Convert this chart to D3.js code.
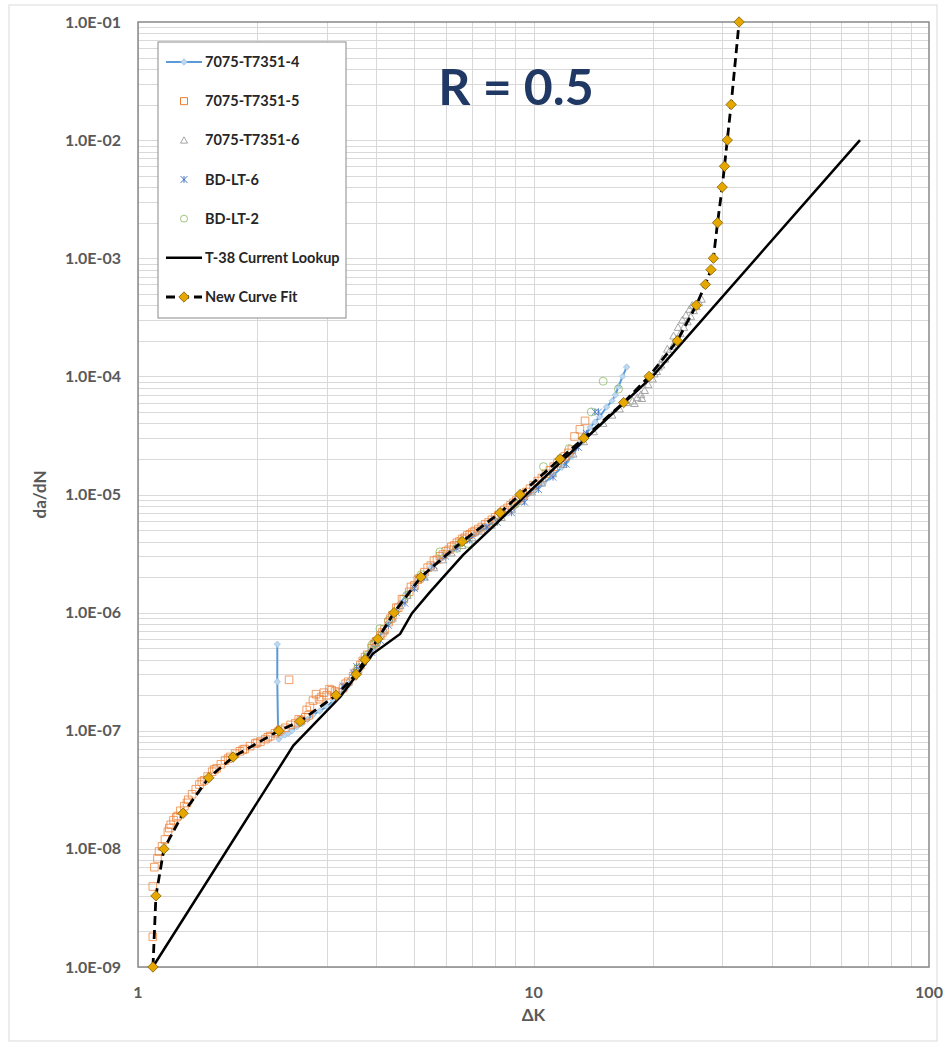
<!DOCTYPE html>
<html>
<head>
<meta charset="utf-8">
<script src="https://cdn.jsdelivr.net/npm/d3@7"></script>
<style>
  body { margin: 0; background: #fff; }
  svg text { font-family: Lato, "Noto Sans", sans-serif; }
</style>
</head>
<body>
<svg id="chart" width="946" height="1046"></svg>
<script>
// tick labels
const xTickValues = [1, 10, 100];
const xTickLabels = ["1", "10", "100"];
const yTickValues = [1e-9, 1e-8, 1e-7, 1e-6, 1e-5, 1e-4, 1e-3, 1e-2, 1e-1];
const yTickLabels = ["1.0E-09", "1.0E-08", "1.0E-07", "1.0E-06", "1.0E-05", "1.0E-04", "1.0E-03", "1.0E-02", "1.0E-01"];

// 7075-T7351-4 (line + small diamonds)
const spec4 = [
  [2.25, 5.4e-7], [2.25, 2.6e-7], [2.26, 1.05e-7], [2.27, 8.5e-8], [2.30, 9e-8], [2.35, 9.2e-8],
  [2.40, 9.5e-8], [2.45, 1.0e-7], [2.52, 1.08e-7], [2.60, 1.15e-7], [2.68, 1.25e-7], [2.77, 1.36e-7],
  [2.88, 1.47e-7], [3.0, 1.6e-7], [3.12, 1.8e-7], [3.24, 2e-7], [3.34, 2.25e-7], [3.43, 2.5e-7],
  [3.55, 2.9e-7], [3.65, 3.4e-7], [3.75, 3.9e-7], [3.85, 4.5e-7], [3.95, 5.2e-7], [4.05, 6e-7],
  [4.15, 6.9e-7], [4.3, 8.2e-7], [4.45, 1e-6], [4.6, 1.2e-6], [4.8, 1.45e-6], [5.0, 1.7e-6],
  [5.25, 2e-6], [5.5, 2.4e-6], [5.8, 2.8e-6], [6.1, 3.2e-6], [6.4, 3.6e-6], [6.8, 4.1e-6],
  [7.2, 4.7e-6], [7.6, 5.3e-6], [8.0, 6e-6], [8.5, 6.9e-6], [9.0, 8e-6], [9.5, 9.2e-6],
  [10.0, 1.06e-5], [10.6, 1.24e-5], [11.2, 1.45e-5], [11.8, 1.7e-5], [12.5, 2.1e-5], [13.1, 2.7e-5],
  [13.5, 3.2e-5], [13.9, 3.7e-5], [14.3, 4.1e-5], [14.7, 4.55e-5], [15.3, 5.5e-5], [15.8, 6.2e-5],
  [16.1, 6.95e-5], [16.4, 8.2e-5], [16.8, 1e-4], [17.2, 1.2e-4]
];

// 7075-T7351-5 (open squares)
const spec5 = [
  [1.09, 1.8e-9], [1.09, 4.8e-9], [1.10, 7e-9], [1.12, 8.3e-9], [1.13, 9.5e-9], [1.15, 1.05e-8],
  [1.17, 1.2e-8], [1.19, 1.4e-8], [1.2, 1.5e-8], [1.21, 1.6e-8], [1.23, 1.75e-8], [1.25, 1.85e-8],
  [1.26, 1.9e-8], [1.28, 2.1e-8], [1.31, 2.3e-8], [1.33, 2.45e-8], [1.34, 2.6e-8], [1.37, 2.9e-8],
  [1.40, 3.2e-8], [1.43, 3.5e-8], [1.45, 3.7e-8], [1.47, 3.8e-8], [1.50, 4.1e-8], [1.54, 4.5e-8],
  [1.56, 4.7e-8], [1.58, 4.8e-8], [1.62, 5.2e-8], [1.66, 5.6e-8], [1.69, 5.8e-8], [1.71, 6e-8],
  [1.76, 6.4e-8], [1.81, 6.7e-8], [1.84, 6.9e-8], [1.86, 7e-8], [1.92, 7.4e-8], [1.98, 7.8e-8],
  [2.0, 7.9e-8], [2.04, 8.1e-8], [2.10, 8.5e-8], [2.13, 8.8e-8], [2.16, 9e-8], [2.22, 9.5e-8],
  [2.26, 9.8e-8], [2.29, 1.02e-7], [2.36, 1.06e-7], [2.41, 2.7e-7], [2.43, 1.12e-7], [2.50, 1.16e-7],
  [2.55, 1.25e-7], [2.58, 1.22e-7], [2.65, 1.3e-7], [2.67, 1.5e-7], [2.7, 1.35e-7], [2.72, 1.6e-7],
  [2.77, 1.8e-7], [2.82, 2.04e-7], [2.87, 1.85e-7], [2.91, 1.93e-7], [2.95, 2.1e-7], [3.0, 2.0e-7],
  [3.05, 2.25e-7], [3.09, 2.2e-7], [3.15, 2.15e-7], [3.2, 2.1e-7], [3.3, 2.3e-7], [3.35, 2.5e-7],
  [3.4, 2.6e-7], [3.5, 2.9e-7], [3.55, 3.1e-7], [3.6, 3.3e-7], [3.65, 3.6e-7], [3.7, 3.9e-7],
  [3.75, 4.2e-7], [3.8, 4.4e-7], [3.9, 5e-7], [3.95, 5.4e-7], [4.0, 5.7e-7], [4.1, 6.4e-7],
  [4.15, 6.8e-7], [4.2, 7.2e-7], [4.3, 8.3e-7], [4.35, 8.9e-7], [4.4, 9.5e-7], [4.5, 1.1e-6],
  [4.55, 1.1e-6], [4.65, 1.3e-6], [4.7, 1.3e-6], [4.85, 1.5e-6], [4.9, 1.65e-6], [5.0, 1.7e-6],
  [5.1, 1.9e-6], [5.15, 1.95e-6], [5.3, 2.2e-6], [5.4, 2.4e-6], [5.5, 2.5e-6], [5.6, 2.75e-6],
  [5.7, 2.8e-6], [5.8, 3.0e-6], [5.9, 3.1e-6], [6.0, 3.3e-6], [6.1, 3.4e-6], [6.2, 3.6e-6],
  [6.3, 3.7e-6], [6.4, 3.9e-6], [6.5, 4.0e-6], [6.6, 4.2e-6], [6.7, 4.3e-6], [6.8, 4.5e-6],
  [6.9, 4.6e-6], [7.0, 4.75e-6], [7.1, 4.9e-6], [7.25, 5.1e-6], [7.4, 5.3e-6], [7.55, 5.6e-6],
  [7.7, 5.8e-6], [7.85, 6.1e-6], [8.0, 6.4e-6], [8.15, 6.7e-6], [8.3, 7e-6], [8.45, 7.4e-6],
  [8.6, 7.7e-6], [8.75, 8.1e-6], [8.9, 8.5e-6], [9.05, 8.9e-6], [9.2, 9.3e-6], [9.4, 9.8e-6],
  [9.6, 1.05e-5], [9.8, 1.12e-5], [10.0, 1.2e-5], [10.25, 1.3e-5], [10.5, 1.38e-5], [10.75, 1.5e-5],
  [11.0, 1.6e-5], [11.25, 1.72e-5], [11.5, 1.85e-5], [11.75, 1.98e-5], [12.0, 2.1e-5], [12.25, 2.25e-5],
  [12.5, 2.4e-5], [12.7, 3.1e-5], [13.1, 3.56e-5], [13.5, 4.2e-5]
];

// 7075-T7351-6 (open triangles)
const spec6 = [
  [3.4, 2.6e-7], [3.6, 3.2e-7], [3.8, 4.3e-7], [4.0, 5.5e-7], [4.2, 7e-7], [4.4, 9e-7],
  [4.6, 1.15e-6], [4.8, 1.4e-6], [5.0, 1.65e-6], [5.3, 2e-6], [5.6, 2.4e-6], [5.9, 2.8e-6],
  [6.2, 3.2e-6], [6.6, 3.7e-6], [7.0, 4.3e-6], [7.4, 4.9e-6], [7.8, 5.5e-6], [8.3, 6.4e-6],
  [8.8, 7.5e-6], [9.3, 8.8e-6], [9.9, 1.05e-5], [10.5, 1.25e-5], [11.2, 1.5e-5], [11.9, 1.8e-5],
  [12.6, 2.2e-5], [13.4, 2.8e-5], [14.2, 3.4e-5], [15.0, 4e-5], [15.8, 4.7e-5], [16.5, 5.3e-5],
  [17.2, 6e-5], [17.8, 6.2e-5], [18.0, 5.9e-5], [18.3, 6.6e-5], [18.7, 7e-5], [18.8, 6.5e-5],
  [19.1, 7.6e-5], [19.5, 8.5e-5], [20.0, 9.5e-5], [20.2, 1.05e-4], [20.5, 1.1e-4], [20.7, 1.2e-4],
  [21.0, 1.25e-4], [21.2, 1.4e-4], [21.5, 1.4e-4], [21.8, 1.7e-4], [22.0, 1.6e-4], [22.5, 1.8e-4],
  [22.6, 2.2e-4], [23.0, 2.05e-4], [23.2, 2.6e-4], [23.5, 2.3e-4], [23.8, 3.0e-4], [24.0, 2.6e-4],
  [24.3, 3.3e-4], [24.5, 2.9e-4], [24.8, 3.7e-4], [25.0, 3.2e-4], [25.2, 4.0e-4], [25.4, 3.6e-4],
  [25.8, 3.9e-4], [26.2, 4.2e-4], [26.6, 4.5e-4]
];

// BD-LT-6 (asterisks)
const bdlt6 = [
  [3.3, 2.4e-7], [3.5, 3.1e-7], [3.57, 3.5e-7], [3.7, 3.8e-7], [3.9, 4.6e-7], [4.1, 5.8e-7],
  [4.3, 7.8e-7], [4.5, 1e-6], [4.73, 1.2e-6], [5.0, 1.6e-6], [5.3, 2e-6], [5.6, 2.5e-6],
  [6.0, 3e-6], [6.4, 3.5e-6], [6.9, 4.1e-6], [7.62, 5.3e-6], [8.1, 5.8e-6], [8.8, 7e-6],
  [9.5, 8.6e-6], [10.3, 1.1e-5], [11.2, 1.4e-5], [12.1, 1.8e-5], [13.0, 2.5e-5], [13.6, 3.3e-5],
  [14.3, 5e-5], [14.6, 5e-5]
];

// BD-LT-2 (open circles)
const bdlt2 = [
  [3.6, 3.4e-7], [3.82, 4.4e-7], [3.9, 5.3e-7], [3.97, 5.5e-7], [4.09, 7.3e-7], [4.3, 8.6e-7],
  [4.78, 1.4e-6], [5.2, 2.1e-6], [5.8, 3.27e-6], [6.4, 3.5e-6], [6.83, 3.85e-6], [7.98, 5.9e-6],
  [9.0, 8.3e-6], [10.6, 1.72e-5], [12.3, 2.45e-5], [14.0, 5e-5], [15.0, 9.1e-5], [16.4, 7.8e-5]
];

// T-38 Current Lookup
const t38 = [
  [1.09, 1e-9], [2.47, 7.5e-8], [3.24, 1.92e-7], [3.93, 4.5e-7], [4.6, 6.6e-7], [4.93, 9.9e-7],
  [5.47, 1.49e-6], [6.63, 3.07e-6], [8.22, 6.07e-6], [9.6, 1e-5], [14, 3.3e-5], [20, 1e-4],
  [66.9, 1e-2]
];

// New Curve Fit
const curveFit = [
  [1.091, 1e-9], [1.11, 4e-9], [1.163, 1e-8], [1.30, 2e-8], [1.51, 4e-8], [1.74, 6e-8],
  [2.27, 1e-7], [2.57, 1.2e-7], [3.17, 2e-7], [3.56, 3e-7], [3.75, 4e-7], [4.04, 6e-7],
  [4.44, 1e-6], [5.19, 2e-6], [6.6, 4e-6], [8.23, 7e-6], [9.25, 1e-5], [11.67, 2e-5],
  [13.4, 3e-5], [16.9, 6e-5], [19.6, 1e-4], [23.1, 2e-4], [25.8, 4e-4], [27.2, 6e-4],
  [28.1, 8e-4], [28.5, 1e-3], [29.2, 2e-3], [30.0, 4e-3], [30.4, 6e-3], [30.9, 1e-2],
  [31.6, 2e-2], [33.1, 1e-1]
];

const legendLabels = ["7075-T7351-4", "7075-T7351-5", "7075-T7351-6", "BD-LT-6", "BD-LT-2", "T-38 Current Lookup", "New Curve Fit"];

const svg = d3.select("#chart");
const W = 946, H = 1046;
const plot = { left: 138, right: 929, top: 22, bottom: 967 };

const x = d3.scaleLog().domain([1, 100]).range([plot.left, plot.right]);
const y = d3.scaleLog().domain([1e-9, 1e-1]).range([plot.bottom, plot.top]);

// outer chart border
svg.append("rect")
  .attr("x", 9).attr("y", 5).attr("width", W - 18).attr("height", H - 10)
  .attr("fill", "#fff").attr("stroke", "#d9d9d9").attr("stroke-width", 1);

// grid lines (log minor + major)
const xGrid = [], yGrid = [];
for (let d = 0; d < 2; d++) for (let m = 1; m < 10; m++) xGrid.push(m * Math.pow(10, d));
for (let d = -9; d < -1; d++) for (let m = 1; m < 10; m++) yGrid.push(m * Math.pow(10, d));

const grid = svg.append("g").attr("stroke", "#d9d9d9").attr("stroke-width", 1);
grid.selectAll("line.v").data(xGrid).join("line")
  .attr("x1", d => Math.round(x(d)) + 0.5).attr("x2", d => Math.round(x(d)) + 0.5)
  .attr("y1", plot.top).attr("y2", plot.bottom);
grid.selectAll("line.h").data(yGrid).join("line")
  .attr("y1", d => Math.round(y(d)) + 0.5).attr("y2", d => Math.round(y(d)) + 0.5)
  .attr("x1", plot.left).attr("x2", plot.right);

// plot frame
svg.append("rect")
  .attr("x", plot.left).attr("y", plot.top)
  .attr("width", plot.right - plot.left).attr("height", plot.bottom - plot.top)
  .attr("fill", "none").attr("stroke", "#898989").attr("stroke-width", 1.5);

// tick labels
svg.append("g").selectAll("text").data(yTickValues).join("text")
  .attr("x", 121).attr("y", d => y(d)).attr("dy", "0.35em")
  .attr("text-anchor", "end").attr("font-size", 16).attr("font-weight", "bold")
  .attr("fill", "#595959").text((d, i) => yTickLabels[i]);

svg.append("g").selectAll("text").data(xTickValues).join("text")
  .attr("x", d => x(d)).attr("y", 998)
  .attr("text-anchor", "middle").attr("font-size", 16).attr("font-weight", "bold")
  .attr("fill", "#595959").text((d, i) => xTickLabels[i]);

// axis titles
svg.append("text")
  .attr("transform", `translate(46,${y(1e-5)}) rotate(-90)`)
  .attr("text-anchor", "middle").attr("font-size", 17).attr("font-weight", "bold")
  .attr("fill", "#595959").text("da/dN");
svg.append("text")
  .attr("x", x(10)).attr("y", 1021)
  .attr("text-anchor", "middle").attr("font-size", 17).attr("font-weight", "bold")
  .attr("fill", "#595959").text("ΔK");

// marker shapes
const diamond = r => `M0,${-r}L${r},0L0,${r}L${-r},0Z`;
const square = s => `M${-s},${-s}H${s}V${s}H${-s}Z`;
const triangle = s => `M0,${-s}L${s},${s * 0.8}L${-s},${s * 0.8}Z`;
const asterisk = s => `M${-s},${-s}L${s},${s}M${-s},${s}L${s},${-s}M0,${-s}V${s}`;

const g = svg.append("g");
const pos = d => `translate(${x(d[0])},${y(d[1])})`;

// 7075-T7351-4
g.append("path").datum(spec4)
  .attr("d", d3.line().x(d => x(d[0])).y(d => y(d[1])))
  .attr("fill", "none").attr("stroke", "#5b9bd5").attr("stroke-width", 2);
g.append("g").selectAll("path").data(spec4).join("path")
  .attr("transform", pos).attr("d", diamond(3.2))
  .attr("fill", "#bdd7ee").attr("stroke", "#9dc3e6").attr("stroke-width", 0.8);

// 7075-T7351-5
g.append("g").selectAll("path").data(spec5).join("path")
  .attr("transform", pos).attr("d", square(3.8))
  .attr("fill", "none").attr("stroke", "#ed7d31").attr("stroke-opacity", 0.75).attr("stroke-width", 1);

// 7075-T7351-6
g.append("g").selectAll("path").data(spec6).join("path")
  .attr("transform", pos).attr("d", triangle(3.8))
  .attr("fill", "none").attr("stroke", "#a5a5a5").attr("stroke-width", 1);

// BD-LT-6
g.append("g").selectAll("path").data(bdlt6).join("path")
  .attr("transform", pos).attr("d", asterisk(3.4))
  .attr("fill", "none").attr("stroke", "#4472c4").attr("stroke-opacity", 0.8).attr("stroke-width", 1);

// BD-LT-2
g.append("g").selectAll("circle").data(bdlt2).join("circle")
  .attr("cx", d => x(d[0])).attr("cy", d => y(d[1])).attr("r", 4)
  .attr("fill", "none").attr("stroke", "#70ad47").attr("stroke-opacity", 0.65).attr("stroke-width", 1);

// T-38
g.append("path").datum(t38)
  .attr("d", d3.line().x(d => x(d[0])).y(d => y(d[1])))
  .attr("fill", "none").attr("stroke", "#000").attr("stroke-width", 2.5);

// New Curve Fit
g.append("path").datum(curveFit)
  .attr("d", d3.line().x(d => x(d[0])).y(d => y(d[1])))
  .attr("fill", "none").attr("stroke", "#000").attr("stroke-width", 2.8)
  .attr("stroke-dasharray", "9,5");
g.append("g").selectAll("path").data(curveFit).join("path")
  .attr("transform", pos).attr("d", diamond(5.2))
  .attr("fill", "#e6a800").attr("stroke", "#7f6000").attr("stroke-width", 0.8);

// R value
svg.append("text")
  .attr("x", 516).attr("y", 105)
  .attr("text-anchor", "middle").attr("font-size", 50).attr("font-weight", "bold")
  .attr("fill", "#203864").text("R = 0.5");

// legend
const leg = svg.append("g");
leg.append("rect")
  .attr("x", 158).attr("y", 42).attr("width", 188).attr("height", 276)
  .attr("fill", "#fff").attr("stroke", "#898989").attr("stroke-width", 1);

const rowY = d3.scaleLinear().domain([0, 6]).range([62, 297]);
const symX = 184;

legendLabels.forEach((label, i) => {
  const cy = rowY(i);
  const row = leg.append("g");
  if (i === 0) {
    row.append("line").attr("x1", 166).attr("x2", 202).attr("y1", cy).attr("y2", cy)
      .attr("stroke", "#5b9bd5").attr("stroke-width", 2);
    row.append("path").attr("transform", `translate(${symX},${cy})`).attr("d", diamond(3.2))
      .attr("fill", "#bdd7ee").attr("stroke", "#9dc3e6").attr("stroke-width", 0.8);
  } else if (i === 1) {
    row.append("path").attr("transform", `translate(${symX},${cy})`).attr("d", square(3.5))
      .attr("fill", "none").attr("stroke", "#ed7d31").attr("stroke-width", 1);
  } else if (i === 2) {
    row.append("path").attr("transform", `translate(${symX},${cy})`).attr("d", triangle(3.5))
      .attr("fill", "none").attr("stroke", "#a5a5a5").attr("stroke-width", 1);
  } else if (i === 3) {
    row.append("path").attr("transform", `translate(${symX},${cy})`).attr("d", asterisk(3.4))
      .attr("fill", "none").attr("stroke", "#4472c4").attr("stroke-width", 1);
  } else if (i === 4) {
    row.append("circle").attr("cx", symX).attr("cy", cy).attr("r", 3.5)
      .attr("fill", "none").attr("stroke", "#70ad47").attr("stroke-opacity", 0.7).attr("stroke-width", 1);
  } else if (i === 5) {
    row.append("line").attr("x1", 166).attr("x2", 202).attr("y1", cy).attr("y2", cy)
      .attr("stroke", "#000").attr("stroke-width", 2.5);
  } else {
    row.append("line").attr("x1", 166).attr("x2", 202).attr("y1", cy).attr("y2", cy)
      .attr("stroke", "#000").attr("stroke-width", 2.8).attr("stroke-dasharray", "9,5");
    row.append("path").attr("transform", `translate(${symX},${cy})`).attr("d", diamond(5.2))
      .attr("fill", "#e6a800").attr("stroke", "#7f6000").attr("stroke-width", 0.8);
  }
  row.append("text").attr("x", 205).attr("y", cy).attr("dy", "0.35em")
    .attr("font-size", 14.5).attr("font-weight", "bold").attr("fill", "#262626").text(label);
});
</script>
</body>
</html>
